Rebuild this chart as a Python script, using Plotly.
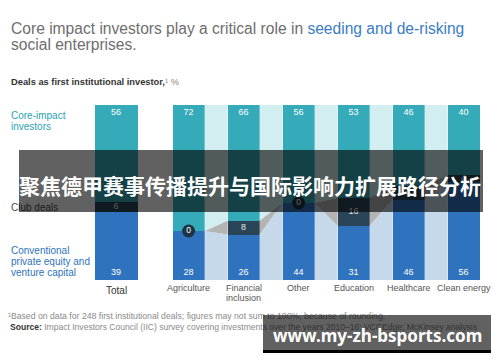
import plotly.graph_objects as go

# ---------------- data ----------------
categories = ["Total", "Agriculture", "Financial<br>inclusion", "Other",
              "Education", "Healthcare", "Clean energy"]
core_impact = [56, 72, 66, 56, 53, 46, 40]
club_deals = [6, 0, 8, 0, 16, 8, 4]
conventional = [39, 28, 26, 44, 31, 46, 56]

# ---------------- layout constants ----------------
W, H = 500, 362
PX_TOP, PX_BOT = 105, 280          # 100% and 0% in pixels
PPP = (PX_BOT - PX_TOP) / 100.0    # pixels per percent
UNIT = 55                          # pixels per category step
TOTAL_CX = 116                     # pixel centre of the Total bar
FIRST_GAP = 1.32

n = len(categories)
positions = [0.0] + [FIRST_GAP + i for i in range(n - 1)]
widths = [43 / UNIT] + [32 / UNIT] * (n - 1)


def dx(px):
    return (px - TOTAL_CX) / UNIT


def dy(py):
    return (PX_BOT - py) / PPP


def px(x):
    return x / W


def py(y):
    return 1 - y / H


# normalise to 100%
tot = [a + b + c for a, b, c in zip(core_impact, club_deals, conventional)]
conv_n = [c / t * 100 for c, t in zip(conventional, tot)]
club_n = [c / t * 100 for c, t in zip(club_deals, tot)]
core_n = [c / t * 100 for c, t in zip(core_impact, tot)]

C_CORE = "#35aab8"
C_CLUB = "#2a4557"
C_CONV = "#2f72bd"
L_CORE = "#d3eef0"
L_CLUB = "#b4b4b4"
L_CONV = "#c6d9ea"
FONT = "Liberation Sans, Arial, sans-serif"

fig = go.Figure()

# connectors between sector bars
for i in range(1, n - 1):
    xr = positions[i] + widths[i] / 2
    xl = positions[i + 1] - widths[i + 1] / 2
    a1, a2 = conv_n[i], conv_n[i] + club_n[i]
    b1, b2 = conv_n[i + 1], conv_n[i + 1] + club_n[i + 1]
    polys = [
        ([xr, xr, xl, xl, xr], [0, a1, b1, 0, 0], L_CONV),
        ([xr, xr, xl, xl, xr], [a1, a2, b2, b1, a1], L_CLUB),
        ([xr, xr, xl, xl, xr], [a2, 100, 100, b2, a2], L_CORE),
    ]
    for xs, ys, col in polys:
        fig.add_trace(go.Scatter(x=xs, y=ys, mode="lines", fill="toself",
                                 fillcolor=col, line=dict(width=0),
                                 hoverinfo="skip"))

# stacked bars
for vals, col in [(conv_n, C_CONV), (club_n, C_CLUB), (core_n, C_CORE)]:
    fig.add_trace(go.Bar(x=positions, y=vals, width=widths,
                         marker=dict(color=col, line=dict(width=0)),
                         hoverinfo="skip"))

# value labels
fig.add_trace(go.Scatter(x=positions, y=[100 - 8 / PPP] * n, mode="text",
                         text=[str(v) for v in core_impact],
                         textfont=dict(color="white", size=9, family=FONT),
                         hoverinfo="skip"))
fig.add_trace(go.Scatter(x=positions, y=[7 / PPP] * n, mode="text",
                         text=[str(v) for v in conventional],
                         textfont=dict(color="white", size=9, family=FONT),
                         hoverinfo="skip"))
cx = [p for p, c in zip(positions, club_deals) if c > 0]
cy = [a + b / 2 for a, b, c in zip(conv_n, club_n, club_deals) if c > 0]
ct = [str(c) for c in club_deals if c > 0]
fig.add_trace(go.Scatter(x=cx, y=cy, mode="text", text=ct,
                         textfont=dict(color="#e8e8e8", size=9, family=FONT),
                         hoverinfo="skip"))
zx = [p for p, c in zip(positions, club_deals) if c == 0]
zy = [a for a, c in zip(conv_n, club_deals) if c == 0]
fig.add_trace(go.Scatter(x=zx, y=zy, mode="markers+text",
                         text=["0"] * len(zx), textposition="middle center",
                         marker=dict(size=13, color="#1d3446", line=dict(width=0)),
                         textfont=dict(color="white", size=8.5, family=FONT),
                         hoverinfo="skip"))

ann = []


def text(x, y, t, size, color, anchor="left", **kw):
    ann.append(dict(x=px(x), y=py(y), xref="paper", yref="paper", text=t,
                    showarrow=False, xanchor=anchor, yanchor="middle",
                    font=dict(size=size, color=color,
                              family=kw.pop("family", FONT)), **kw))


# title
text(9, 28, "Core impact investors play a critical role in "
     "<span style='color:#3b7dc4'>seeding and de-risking</span>", 15.6, "#6e6e6e")
text(9, 44, "social enterprises.", 15.6, "#6e6e6e")
text(9, 82, "<b>Deals as first institutional investor,</b>"
     "<span style='color:#888888'>¹ %</span>", 9.3, "#333333")

# row labels
for yy, t in [(115, "Core-impact"), (126, "investors")]:
    text(9, yy, t, 10, "#2aa3b3")
text(9, 207, "Club deals", 10, "#4a4a4a")
for yy, t in [(250, "Conventional"), (261, "private equity and"), (272, "venture capital")]:
    text(9, yy, t, 10, "#2f72bd")

# category labels
for i, c in enumerate(categories):
    xpix = TOTAL_CX + positions[i] * UNIT
    lines = c.split("<br>")
    for j, ln in enumerate(lines):
        if i == 0:
            text(xpix, 290, ln, 10, "#333333", anchor="center")
        else:
            text(xpix, 288 + 10 * j, ln, 9, "#555555", anchor="center")

# footnotes
text(6, 316, "¹Based on data for 248 first institutional deals; figures may not sum to 100%, "
     "because of rounding.", 8.7, "#8a8a8a")
text(8, 327, "<span style='color:#333333'><b>Source:</b></span> Impact Investors Council (IIC) "
     "survey covering investments over the years 2010–16; VCCEdge; McKinsey analysis",
     8.55, "#8a8a8a")

# overlay banner
ann.append(dict(x=px(250.5), y=py(181), xref="paper", yref="paper", text=" ",
                showarrow=False, xanchor="center", yanchor="middle",
                width=464, height=62, bgcolor="rgba(0,0,0,0.62)",
                borderpad=0, borderwidth=0))
text(250, 185, "<b>聚焦德甲赛事传播提升与国际影响力扩展路径分析</b>", 21, "white",
     anchor="center", family="Noto Sans CJK SC")

# watermark
ann.append(dict(x=px(377), y=py(332.5), xref="paper", yref="paper", text=" ",
                showarrow=False, xanchor="center", yanchor="middle",
                width=228, height=35, bgcolor="rgba(0,0,0,0.62)",
                borderpad=0, borderwidth=0))
ann.append(dict(x=px(377), y=py(351.5), xref="paper", yref="paper", text=" ",
                showarrow=False, xanchor="center", yanchor="middle",
                width=228, height=3, bgcolor="#000000",
                borderpad=0, borderwidth=0, font=dict(size=1)))
text(377, 335, "<b>www.my-zh-bsports.com</b>", 17, "white",
     anchor="center", family="Noto Sans")

fig.update_layout(
    width=W, height=H, margin=dict(l=0, r=0, t=0, b=0),
    barmode="stack", showlegend=False, hovermode=False,
    paper_bgcolor="white", plot_bgcolor="white",
    font=dict(family=FONT),
    xaxis=dict(range=[dx(0), dx(W)], visible=False, fixedrange=True),
    yaxis=dict(range=[dy(H), dy(0)], visible=False, fixedrange=True),
    annotations=ann,
)

fig.write_html("out.html", config={"displayModeBar": False},
               post_script="document.body.style.margin='0';"
                           "document.body.style.overflow='hidden';")
